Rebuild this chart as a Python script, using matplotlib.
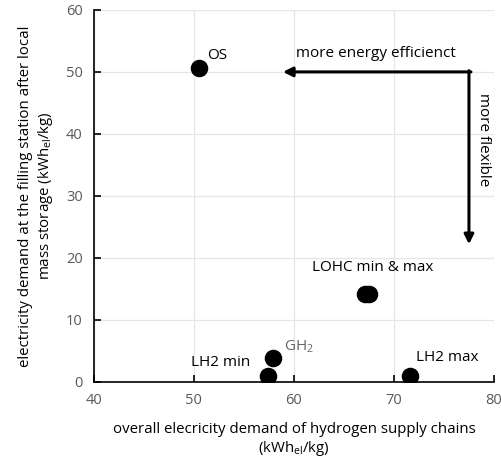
import matplotlib.pyplot as plt

# ── Data ──────────────────────────────────────────────────────────────────────
names  = ["OS", "LOHC min", "LOHC max", "GH$_2$", "LH2 min", "LH2 max"]
x_dem  = [50.5, 67.1, 67.5, 57.9, 57.4, 71.6]
y_dem  = [50.6, 14.2, 14.2, 3.9, 0.9, 0.9]

plt.rcParams.update({
    "font.family":     ["Open Sans", "DejaVu Sans"],
    "font.size":       10,
    "mathtext.default": "regular",
})

fig = plt.figure(figsize=(5.02, 4.72), dpi=100)
ax = fig.add_axes([0.187, 0.191, 0.797, 0.788])

ax.grid(True, color="#e6e6e6", linewidth=0.9)
ax.set_axisbelow(True)
ax.scatter(x_dem, y_dem, s=135, color="black", zorder=3)

# point labels
fs = 11
ax.text(51.3, 51.5, "OS", fontsize=fs, va="bottom", ha="left")
ax.text(67.9, 18.4, "LOHC min & max", fontsize=fs, va="center", ha="center")
ax.text(59.0, 5.6, "GH$_2$", fontsize=fs, va="center", ha="left", color="#666666")
ax.text(55.6, 3.1, "LH2 min", fontsize=fs, va="center", ha="right")
ax.text(72.2, 4.0, "LH2 max", fontsize=fs, va="center", ha="left")

# direction arrows
ax.annotate("", xy=(58.9, 50.0), xytext=(77.7, 50.0),
            arrowprops=dict(arrowstyle="-|>", color="black", lw=2.2,
                            mutation_scale=14, shrinkA=0, shrinkB=0))
ax.annotate("", xy=(77.5, 22.2), xytext=(77.5, 50.2),
            arrowprops=dict(arrowstyle="-|>", color="black", lw=2.2,
                            mutation_scale=14, shrinkA=0, shrinkB=0))
ax.text(68.2, 51.8, "more energy efficienct", fontsize=fs, ha="center", va="bottom")
ax.text(79.0, 39.0, "more flexible", fontsize=fs, ha="center", va="center",
        rotation=270)

ax.set_xlim(40, 80)
ax.set_ylim(0, 60)
ax.set_xticks([40, 50, 60, 70, 80])
ax.set_yticks([0, 10, 20, 30, 40, 50, 60])
for side in ["top", "right"]:
    ax.spines[side].set_visible(False)
for side in ["left", "bottom"]:
    ax.spines[side].set_linewidth(1.2)
ax.tick_params(direction="in", length=5, width=1.2, labelcolor="#595959",
               labelsize=10.5, pad=8)

ax.set_xlabel("overall elecricity demand of hydrogen supply chains\n(kWh$_{el}$/kg)",
              fontsize=10.8, labelpad=10)
ax.set_ylabel("electricity demand at the filling station after local\nmass storage (kWh$_{el}$/kg)",
              fontsize=10.8, labelpad=8)

fig.savefig("out.png", dpi=100)
